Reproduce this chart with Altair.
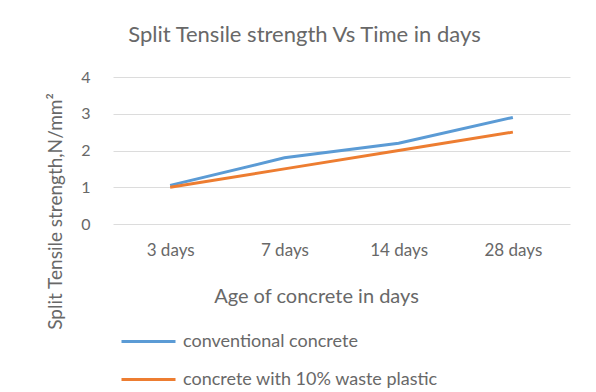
import altair as alt
import pandas as pd

# Age of concrete at testing
ages = ["3 days", "7 days", "14 days", "28 days"]

# Split tensile strength (N/mm²) for each mix
series_names = ["conventional concrete", "concrete with 10% waste plastic"]
conventional = [1.05, 1.8, 2.2, 2.9]
waste_plastic = [1.0, 1.5, 2.0, 2.5]

colors = ["#5B9BD5", "#ED7D31"]

rows = []
for name, values in zip(series_names, [conventional, waste_plastic]):
    for age, v in zip(ages, values):
        rows.append({"age": age, "strength": v, "mix": name})
df = pd.DataFrame(rows)

FONT = "Lato"
TEXT = "#686868"

chart = (
    alt.Chart(df)
    .mark_line(strokeWidth=3)
    .encode(
        x=alt.X(
            "age:N",
            sort=ages,
            scale=alt.Scale(paddingInner=0, paddingOuter=0.5),
            axis=alt.Axis(
                title="Age of concrete in days",
                labelAngle=0,
                labelFontSize=17,
                labelPadding=18,
                labelColor=TEXT,
                labelFont=FONT,
                titleFont=FONT,
                titleFontSize=20,
                titleFontWeight="normal",
                titleColor=TEXT,
                titlePadding=28,
                titleX=203,
                domain=False,
                ticks=False,
                grid=False,
            ),
        ),
        y=alt.Y(
            "strength:Q",
            scale=alt.Scale(domain=[0, 4]),
            axis=alt.Axis(
                title="Split Tensile strength,N/mm²",
                values=[0, 1, 2, 3, 4],
                labelFontSize=16,
                labelPadding=23,
                labelColor=TEXT,
                labelFont=FONT,
                titleFont=FONT,
                titleFontSize=19,
                titleFontWeight="normal",
                titleColor=TEXT,
                titleX=-58,
                titleY=134,
                titleAlign="center",
                titleBaseline="middle",
                domain=False,
                ticks=False,
                grid=True,
                gridColor="#dcdcdc",
                gridWidth=1,
            ),
        ),
        color=alt.Color(
            "mix:N",
            sort=series_names,
            scale=alt.Scale(domain=series_names, range=colors),
            legend=alt.Legend(
                title=None,
                orient="none",
                legendX=7,
                legendY=236,
                direction="vertical",
                symbolType="stroke",
                symbolSize=2916,
                symbolStrokeWidth=3,
                labelFont=FONT,
                labelFontSize=18,
                labelColor=TEXT,
                labelOffset=6,
                labelLimit=400,
                rowPadding=-17,
            ),
        ),
    )
    .properties(
        width=457,
        height=147,
        title=alt.TitleParams(
            "Split Tensile strength Vs Time in days",
            font=FONT,
            fontSize=22,
            fontWeight="normal",
            color=TEXT,
            dx=-37,
            offset=22,
        ),
        autosize=alt.AutoSizeParams(type="none"),
        padding={"left": 113, "top": 77, "right": 26, "bottom": 168},
    )
    .configure(background="white", view=alt.ViewConfig(strokeWidth=0, stroke="transparent"))
)

chart.save("out.html", embed_options={"renderer": "svg", "actions": False})
